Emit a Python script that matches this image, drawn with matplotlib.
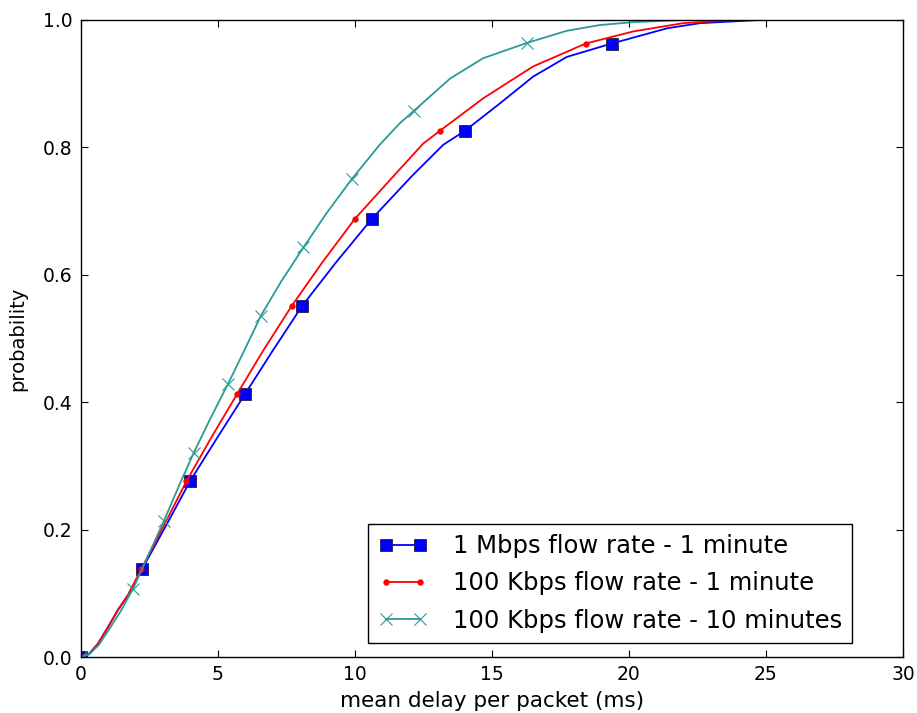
import matplotlib
matplotlib.use("Agg")
import matplotlib.pyplot as plt

# Empirical CDFs of mean per-packet delay (ms)
delay_1mbps_1min = [0, 0.3, 0.62, 1.0, 1.35, 1.72, 2.23, 3.1, 3.98, 4.97, 5.99,
                    7.0, 8.07, 9.3, 10.62, 12.1, 13.22, 14.01, 15.29, 16.5,
                    17.73, 19.37, 21.4, 22.6, 24.8]
prob_1mbps_1min = [0, 0.005, 0.021, 0.048, 0.074, 0.097, 0.138, 0.206, 0.276,
                   0.344, 0.413, 0.481, 0.551, 0.619, 0.688, 0.756, 0.804,
                   0.826, 0.869, 0.911, 0.942, 0.963, 0.987, 0.995, 1.0]
marks_1mbps_1min = [0, 6, 8, 10, 12, 14, 17, 21]

delay_100k_1min = [0, 0.3, 0.62, 1.0, 1.35, 1.72, 2.2, 3.02, 3.85, 4.75, 5.70,
                   6.65, 7.69, 8.8, 10.0, 11.43, 12.49, 13.1, 14.68, 16.5,
                   18.42, 20.16, 21.98, 24.0]
prob_100k_1min = [0, 0.005, 0.021, 0.048, 0.074, 0.098, 0.138, 0.206, 0.276,
                  0.344, 0.413, 0.481, 0.551, 0.619, 0.688, 0.756, 0.806,
                  0.826, 0.877, 0.927, 0.963, 0.982, 0.995, 1.0]
marks_100k_1min = [0, 6, 8, 10, 12, 14, 17, 20]

delay_100k_10min = [0, 0.3, 0.65, 1.05, 1.45, 1.90, 2.47, 3.03, 3.57, 4.12,
                    4.73, 5.37, 5.97, 6.57, 7.3, 8.12, 8.95, 9.88, 10.9, 11.64,
                    12.14, 13.47, 14.68, 16.28, 17.73, 18.94, 20.16, 22.0]
prob_100k_10min = [0, 0.004, 0.019, 0.045, 0.072, 0.107, 0.161, 0.214, 0.268,
                   0.321, 0.375, 0.429, 0.482, 0.536, 0.589, 0.643, 0.696,
                   0.750, 0.804, 0.838, 0.857, 0.908, 0.94, 0.964, 0.983,
                   0.992, 0.9966, 1.0]
marks_100k_10min = [0, 5, 7, 9, 11, 13, 15, 17, 20, 23]

labels = ["1 Mbps flow rate - 1 minute",
          "100 Kbps flow rate - 1 minute",
          "100 Kbps flow rate - 10 minutes"]

x_ticks = [0, 5, 10, 15, 20, 25, 30]
y_ticks = [0.0, 0.2, 0.4, 0.6, 0.8, 1.0]

plt.rcParams["font.family"] = "DejaVu Sans"

fig = plt.figure(figsize=(9.17, 7.13), dpi=100, facecolor="white")
ax = fig.add_axes([0.0883, 0.0785, 0.8964, 0.8935])

ax.plot(delay_1mbps_1min, prob_1mbps_1min, color="blue", lw=1.3,
        marker="s", markersize=8.5, markerfacecolor="blue",
        markeredgecolor="#202040", markeredgewidth=0.6,
        markevery=marks_1mbps_1min, label=labels[0])
ax.plot(delay_100k_1min, prob_100k_1min, color="red", lw=1.3,
        marker="o", markersize=4, markerfacecolor="red",
        markeredgecolor="red", markeredgewidth=0.5,
        markevery=marks_100k_1min, label=labels[1])
ax.plot(delay_100k_10min, prob_100k_10min, color="#2b9a96", lw=1.3,
        marker="x", markersize=8.5, markeredgewidth=0.8,
        markevery=marks_100k_10min, label=labels[2])

ax.set_xlim(0, 30)
ax.set_ylim(0, 1.0)
ax.set_xticks(x_ticks)
ax.set_yticks(y_ticks)
ax.set_yticklabels([f"{v:.1f}" for v in y_ticks])
ax.tick_params(direction="in", top=True, right=True, length=5, width=0.8,
               labelsize=13.5, pad=6)
for s in ax.spines.values():
    s.set_linewidth(1.0)

ax.set_xlabel("mean delay per packet (ms)", fontsize=15.5, labelpad=5)
ax.set_ylabel("probability", fontsize=14, labelpad=11)

leg = ax.legend(loc="lower right", bbox_to_anchor=(0.938, 0.022),
                borderaxespad=0, fontsize=17.5, numpoints=2,
                fancybox=False, framealpha=1, edgecolor="black",
                handlelength=2.0, handletextpad=1.05, labelspacing=0.55,
                borderpad=0.42)
leg.get_frame().set_linewidth(1.0)

fig.savefig("out.png", dpi=100, facecolor="white")
